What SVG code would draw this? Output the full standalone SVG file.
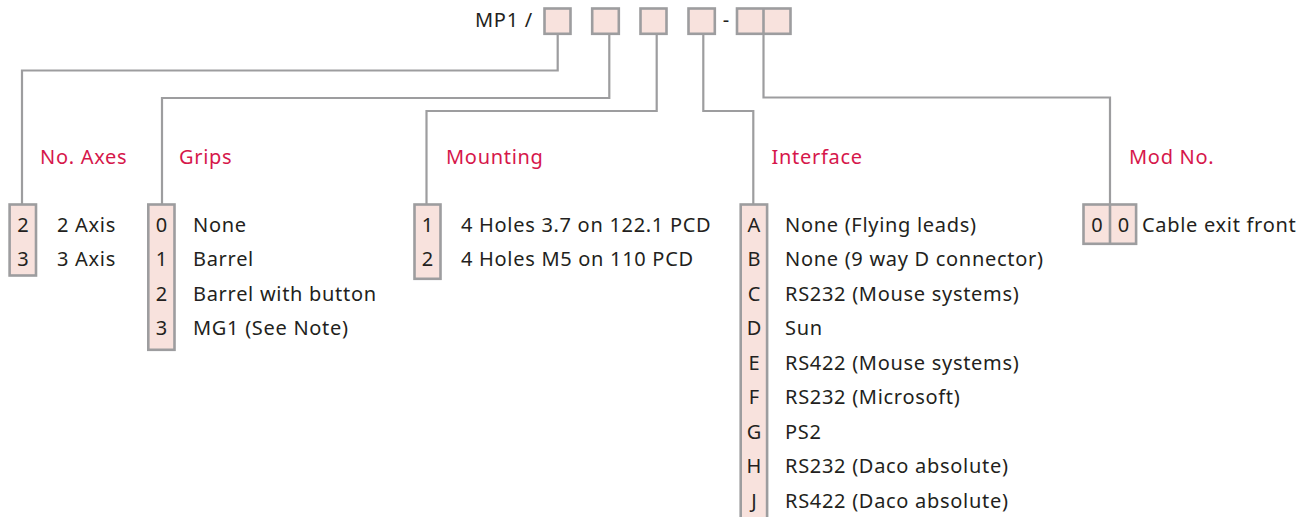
<svg xmlns="http://www.w3.org/2000/svg" width="1314" height="517" viewBox="0 0 1314 517">
<style>
.box{fill:#f8e2dd;stroke:#9d9d9f;stroke-width:2.6}
.div{stroke:#9d9d9f;stroke-width:2.6}
.con{fill:none;stroke:#9d9d9f;stroke-width:2.2}
text{font-family:"Noto Sans","Open Sans",sans-serif;font-size:20px;letter-spacing:0.7px;fill:#231f20}
.t{fill:#d6174b}
.c{text-anchor:middle;letter-spacing:0}
</style>
<rect width="1314" height="517" fill="#ffffff"/>
<g id="code">
<text x="475" y="27">MP1 /</text>
<rect class="box" x="544.5" y="8.5" width="26" height="25.3"/>
<rect class="box" x="592.2" y="8.5" width="26.6" height="25.3"/>
<rect class="box" x="640.5" y="8.5" width="26" height="25.3"/>
<rect class="box" x="688.5" y="8.5" width="26.3" height="25.3"/>
<text x="726" y="27" class="c">-</text>
<rect class="box" x="737" y="8.5" width="53.5" height="25.3"/>
<line class="div" x1="763.5" y1="8.5" x2="763.5" y2="33.8"/>
</g>
<g id="connectors">
<path class="con" d="M557.7 34 V70.5 H22 V204"/>
<path class="con" d="M609.3 34 V98 H162 V204"/>
<path class="con" d="M656.7 34 V111 H426.5 V204"/>
<path class="con" d="M703.3 34 V111 H753.3 V204"/>
<path class="con" d="M763.5 34 V97.5 H1110 V204"/>
</g>
<g id="axes">
<text class="t" x="40" y="163.5">No. Axes</text>
<rect class="box" x="9.6" y="204.5" width="26.4" height="71"/>
<text class="c" x="23" y="231.7">2</text>
<text class="c" x="23" y="266.2">3</text>
<text x="57" y="231.7">2 Axis</text>
<text x="57" y="266.2">3 Axis</text>
</g>
<g id="grips">
<text class="t" x="179" y="163.5">Grips</text>
<rect class="box" x="148.3" y="204.5" width="26.2" height="145.3"/>
<text class="c" x="161.4" y="231.7">0</text>
<text class="c" x="161.4" y="266.2">1</text>
<text class="c" x="161.4" y="300.7">2</text>
<text class="c" x="161.4" y="335.2">3</text>
<text x="193" y="231.7">None</text>
<text x="193" y="266.2">Barrel</text>
<text x="193" y="300.7">Barrel with button</text>
<text x="193" y="335.2">MG1 (See Note)</text>
</g>
<g id="mounting">
<text class="t" x="446" y="164">Mounting</text>
<rect class="box" x="414.5" y="204.5" width="26" height="74.3"/>
<text class="c" x="427.5" y="231.7">1</text>
<text class="c" x="427.5" y="266.2">2</text>
<text x="461" y="231.7">4 Holes 3.7 on 122.1 PCD</text>
<text x="461" y="266.2">4 Holes M5 on 110 PCD</text>
</g>
<g id="interface">
<text class="t" x="771.5" y="163.5">Interface</text>
<rect class="box" x="740.7" y="204.5" width="26.4" height="340"/>
<text class="c" x="754" y="231.7">A</text>
<text class="c" x="754" y="266.2">B</text>
<text class="c" x="754" y="300.7">C</text>
<text class="c" x="754" y="335.2">D</text>
<text class="c" x="754" y="369.7">E</text>
<text class="c" x="754" y="404.2">F</text>
<text class="c" x="754" y="438.7">G</text>
<text class="c" x="754" y="473.2">H</text>
<text class="c" x="754" y="507.7">J</text>
<text x="785" y="231.7">None (Flying leads)</text>
<text x="785" y="266.2">None (9 way D connector)</text>
<text x="785" y="300.7">RS232 (Mouse systems)</text>
<text x="785" y="335.2">Sun</text>
<text x="785" y="369.7">RS422 (Mouse systems)</text>
<text x="785" y="404.2">RS232 (Microsoft)</text>
<text x="785" y="438.7">PS2</text>
<text x="785" y="473.2">RS232 (Daco absolute)</text>
<text x="785" y="507.7">RS422 (Daco absolute)</text>
</g>
<g id="modno">
<text class="t" x="1129" y="163.5">Mod No.</text>
<rect class="box" x="1083.5" y="204.5" width="52.6" height="39.3"/>
<line class="div" x1="1110" y1="204.5" x2="1110" y2="243.8"/>
<text class="c" x="1097" y="231.7">0</text>
<text class="c" x="1123.5" y="231.7">0</text>
<text x="1142" y="231.7">Cable exit front</text>
</g>
</svg>
